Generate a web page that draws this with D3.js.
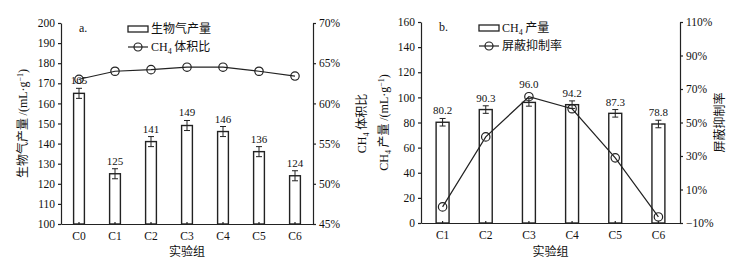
<!DOCTYPE html>
<html lang="zh">
<head>
<meta charset="UTF-8">
<title>生物气产量与CH4</title>
<style>
    body { margin: 0; background: #fff; }
    svg { display: block; }
    text { font-family: "Liberation Serif", "Times New Roman", "Noto Sans CJK SC", serif; fill: #111; }
    .cn { font-family: "Noto Sans CJK SC", serif; }
    .axis path, .axis line { stroke: #222; stroke-width: 1.2; }
    .axis text { font-size: 11.5px; }
</style>
</head>
<body>
<svg id="chart" width="755" height="264"></svg>
<script src="https://d3js.org/d3.v7.min.js"></script>
<script>
// panel a
const groupsA = ["C0", "C1", "C2", "C3", "C4", "C5", "C6"];
const biogas = [165, 125, 141, 149, 146, 136, 124];
const biogasErr = [2.5, 2.5, 2.5, 2.5, 2.5, 2.5, 2.5];
const ch4Ratio = [63.0, 64.0, 64.2, 64.5, 64.5, 64.0, 63.4];

// panel b
const groupsB = ["C1", "C2", "C3", "C4", "C5", "C6"];
const ch4Yield = [80.2, 90.3, 96.0, 94.2, 87.3, 78.8];
const ch4Err = [3, 3, 3, 3, 3, 3];
const inhibit = [-0.4, 41.4, 65.4, 58.2, 28.9, -6.4];

const svg = d3.select("#chart");

function panel(o) {
    const x = d3.scaleBand().domain(o.groups).range([o.x0, o.x1]);
    const yL = d3.scaleLinear().domain(o.leftDomain).range([o.y1, o.y0]);
    const yR = d3.scaleLinear().domain(o.rightDomain).range([o.y1, o.y0]);
    const bw = x.bandwidth() * 0.3;
    const g = svg.append("g");

    // bars
    g.selectAll(".bar").data(o.bars).enter().append("rect")
        .attr("x", (d, i) => x(o.groups[i]) + x.bandwidth() / 2 - bw / 2)
        .attr("y", d => yL(d))
        .attr("width", bw)
        .attr("height", d => yL(o.leftDomain[0]) - yL(d))
        .attr("fill", "#fff").attr("stroke", "#222").attr("stroke-width", 1.4);

    // error bars
    const eb = g.selectAll(".err").data(o.bars).enter().append("g");
    const cx = (i) => x(o.groups[i]) + x.bandwidth() / 2;
    eb.append("line")
        .attr("x1", (d, i) => cx(i)).attr("x2", (d, i) => cx(i))
        .attr("y1", (d, i) => yL(d - o.err[i])).attr("y2", (d, i) => yL(d + o.err[i]))
        .attr("stroke", "#222");
    [-1, 1].forEach(s => {
        eb.append("line")
            .attr("x1", (d, i) => cx(i) - 3).attr("x2", (d, i) => cx(i) + 3)
            .attr("y1", (d, i) => yL(d + s * o.err[i])).attr("y2", (d, i) => yL(d + s * o.err[i]))
            .attr("stroke", "#222");
    });
    // value labels; in panel b they are lifted over the line markers
    const labelY = (d, i) => {
        let y = yL(d + o.err[i]) - 4;
        if (o.avoid) {
            const cy = yR(o.line[i]);
            if (y > cy - 8 && y - 10 < cy + 5) y = cy - 9;
        }
        return y;
    };
    g.selectAll(".lbl").data(o.bars).enter().append("text")
        .attr("x", (d, i) => cx(i))
        .attr("y", labelY)
        .attr("text-anchor", "middle")
        .attr("font-size", "11px")
        .text(d => o.fmt(d));

    // line
    const line = d3.line().x((d, i) => cx(i)).y(d => yR(d));
    g.append("path").datum(o.line).attr("d", line)
        .attr("fill", "none").attr("stroke", "#222").attr("stroke-width", 1.2);
    g.selectAll(".pt").data(o.line).enter().append("circle")
        .attr("cx", (d, i) => cx(i)).attr("cy", d => yR(d)).attr("r", 4.2)
        .attr("fill", "none").attr("stroke", "#222").attr("stroke-width", 1.2);

    // axes
    g.append("g").attr("class", "axis")
        .attr("transform", `translate(0,${o.y1})`)
        .call(d3.axisBottom(x).tickSizeInner(-2).tickSizeOuter(0).tickPadding(8));
    g.append("g").attr("class", "axis")
        .attr("transform", `translate(${o.x0},0)`)
        .call(d3.axisLeft(yL).tickValues(o.leftTicks).tickSize(3).tickSizeOuter(0).tickPadding(3));
    g.append("g").attr("class", "axis")
        .attr("transform", `translate(${o.x1},0)`)
        .call(d3.axisRight(yR).tickValues(o.rightTicks).tickSize(3).tickSizeOuter(0).tickPadding(3)
            .tickFormat(d => (d < 0 ? "\u2212" + (-d) : d) + "%"));
    g.selectAll(".axis path").attr("stroke-width", 1.3);

    // axis titles
    g.append("text").attr("class", "cn")
        .attr("x", (o.x0 + o.x1) / 2).attr("y", 256)
        .attr("text-anchor", "middle").attr("font-size", "12px").text("实验组");

    const lt = g.append("text")
        .attr("transform", `translate(${o.x0 + o.leftTitleDx},${(o.y0 + o.y1) / 2}) rotate(-90)`)
        .attr("text-anchor", "middle").attr("font-size", "12px");
    o.leftTitle(lt);

    const rt = g.append("text")
        .attr("transform", `translate(${o.x1 + o.rightTitleDx},${(o.y0 + o.y1) / 2}) rotate(-90)`)
        .attr("text-anchor", "middle").attr("font-size", "12px");
    o.rightTitle(rt);

    // panel letter
    g.append("text").attr("x", o.x0 + 18).attr("y", o.y0 + 9)
        .attr("font-size", "12px").text(o.letter);

    // legend
    const lx = o.legendX, ly = o.y0 + 5;
    g.append("rect").attr("x", lx).attr("y", ly - 2).attr("width", 20).attr("height", 6)
        .attr("fill", "#fff").attr("stroke", "#222").attr("stroke-width", 1.3);
    const t1 = g.append("text").attr("x", lx + 23).attr("y", ly + 5).attr("font-size", "12px");
    o.legend1(t1);
    g.append("line").attr("x1", lx).attr("x2", lx + 20).attr("y1", ly + 19).attr("y2", ly + 19)
        .attr("stroke", "#222").attr("stroke-width", 1.2);
    g.append("circle").attr("cx", lx + 10).attr("cy", ly + 19).attr("r", 4)
        .attr("fill", "none").attr("stroke", "#222").attr("stroke-width", 1.2);
    const t2 = g.append("text").attr("x", lx + 23).attr("y", ly + 23).attr("font-size", "12px");
    o.legend2(t2);
}

function ch4(t, rest) {
    t.append("tspan").text("CH");
    t.append("tspan").attr("font-size", "8px").attr("dy", 3).text("4");
    t.append("tspan").attr("dy", -3).attr("class", "cn").text(rest);
}

panel({
    groups: groupsA, bars: biogas, err: biogasErr, line: ch4Ratio,
    x0: 61, x1: 313, y0: 23, y1: 224,
    leftDomain: [100, 200], rightDomain: [45, 70],
    leftTicks: d3.range(100, 201, 10), rightTicks: d3.range(45, 71, 5),
    fmt: d => d3.format("d")(d),
    letter: "a.", legendX: 128, avoid: false,
    leftTitleDx: -34, rightTitleDx: 53,
    leftTitle: t => {
        t.append("tspan").attr("class", "cn").text("生物气产量 ");
        t.append("tspan").text("/(mL·g");
        t.append("tspan").attr("font-size", "8px").attr("dy", -4).text("−1");
        t.append("tspan").attr("dy", 4).text(")");
    },
    rightTitle: t => ch4(t, " 体积比"),
    legend1: t => t.attr("class", "cn").text("生物气产量"),
    legend2: t => ch4(t, " 体积比")
});

panel({
    groups: groupsB, bars: ch4Yield, err: ch4Err, line: inhibit,
    x0: 421, x1: 680, y0: 22, y1: 223,
    leftDomain: [0, 160], rightDomain: [-10, 110],
    leftTicks: d3.range(0, 161, 20), rightTicks: d3.range(-10, 111, 20),
    fmt: d => d3.format(".1f")(d),
    letter: "b.", legendX: 479, avoid: true,
    leftTitleDx: -33, rightTitleDx: 44,
    leftTitle: t => {
        t.append("tspan").text("CH");
        t.append("tspan").attr("font-size", "8px").attr("dy", 3).text("4");
        t.append("tspan").attr("dy", -3).attr("class", "cn").text(" 产量 ");
        t.append("tspan").text("/(mL·g");
        t.append("tspan").attr("font-size", "8px").attr("dy", -4).text("−1");
        t.append("tspan").attr("dy", 4).text(")");
    },
    rightTitle: t => t.attr("class", "cn").text("屏蔽抑制率"),
    legend1: t => ch4(t, " 产量"),
    legend2: t => t.attr("class", "cn").text("屏蔽抑制率")
});
</script>
</body>
</html>
